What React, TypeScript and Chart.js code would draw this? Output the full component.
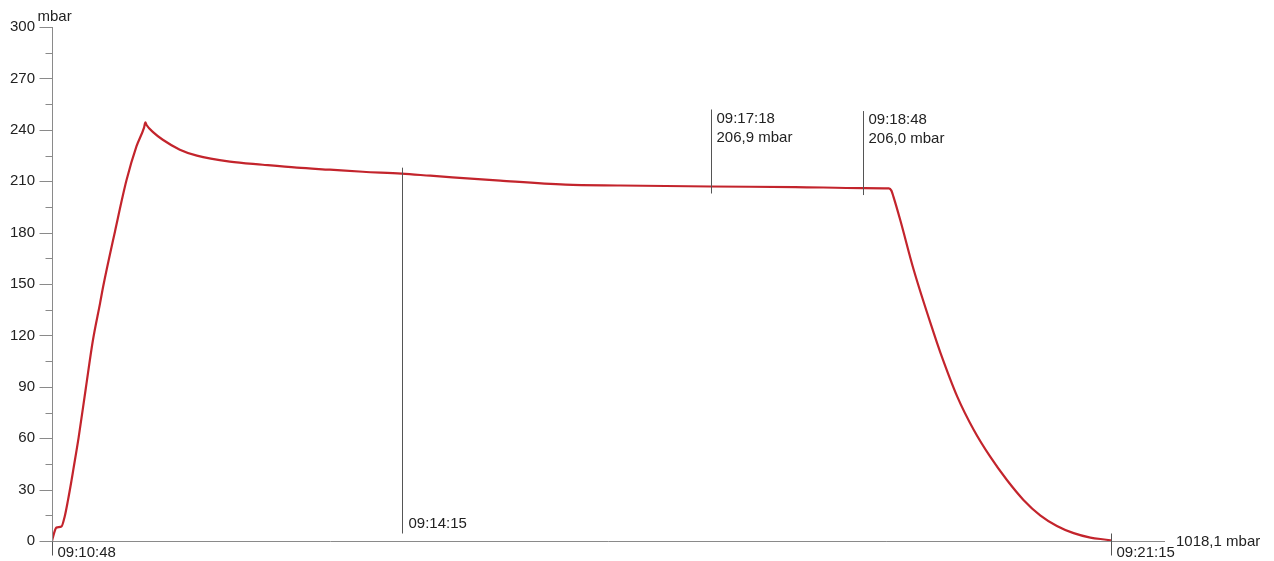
import React, { useEffect, useRef } from "react";
import { Chart, registerables } from "chart.js";

Chart.register(...registerables);

// seconds elapsed since 09:10:48
const timeSec = [
  0, 1.2, 2.6, 5.6, 7.5, 9.5, 11.5, 12.6, 15.8, 20, 24.2, 28.5, 30.3, 37.3, 44.1, 50, 54.5, 55.3,
  56, 60, 65.6, 75.7, 85.8, 105.3, 124.8, 145, 164.6, 184.1, 207, 224, 265.4, 304, 336.5, 390,
  440, 480, 495.5, 497, 498.2, 502.2, 510.2, 522.1, 526, 536, 545.8, 555.5, 565.4, 575.2,
  585.1, 595, 604.9, 614.8, 626.6, 627,
];
const pressure = [
  0, 4.5, 7.8, 8.4, 14.2, 24, 35, 41.5, 60.6, 89, 117, 139, 148.5, 180.7, 210.5, 230.3, 241.3, 244.3,
  242.8, 238.5, 234.2, 228.4, 224.9, 221.4, 219.6, 217.9, 216.7, 215.5, 214.4, 213.2, 210.3, 208, 207.5, 206.9,
  206.6, 206.0, 205.8, 204.5, 201, 187.5, 158.3, 121.3, 110, 84.3, 64.8, 49.2, 35.6, 24,
  15, 8.8, 4.6, 2.0, 0.4, 0.3,
];

const yTicks = [0, 30, 60, 90, 120, 150, 180, 210, 240, 270, 300];
const yUnit = "mbar";
const endLabel = "1018,1 mbar";

const markerTimes = [0, 207, 390, 480, 627];
const markerLabels = ["09:10:48", "09:14:15", "09:17:18", "09:18:48", "09:21:15"];
const markerValueLabels = ["", "", "206,9 mbar", "206,0 mbar", ""];
const markerKinds = ["start", "low", "high", "high", "end"];

const FONT = '"Liberation Sans", Arial, Helvetica, sans-serif';

function valueAt(t: number): number {
  for (let i = 0; i < timeSec.length - 1; i++) {
    if (t >= timeSec[i] && t <= timeSec[i + 1]) {
      const f = (t - timeSec[i]) / (timeSec[i + 1] - timeSec[i] || 1);
      return pressure[i] + f * (pressure[i + 1] - pressure[i]);
    }
  }
  return pressure[pressure.length - 1];
}

const decorPlugin = {
  id: "decor",
  afterDraw(chart: any) {
    const { ctx, chartArea, scales } = chart;
    const xs = scales.x;
    const ys = scales.y;
    ctx.save();
    // axes
    ctx.strokeStyle = "#8a8a8a";
    ctx.lineWidth = 1;
    const ax = Math.round(chartArea.left) + 0.5;
    const ay = Math.round(chartArea.bottom) + 0.5;
    ctx.beginPath();
    ctx.moveTo(ax, Math.round(chartArea.top));
    ctx.lineTo(ax, ay);
    ctx.moveTo(ax, ay);
    ctx.lineTo(chartArea.right, ay);
    ctx.stroke();
    // y ticks major / minor
    for (let v = 0; v <= 300; v += 15) {
      const y = Math.round(ys.getPixelForValue(v)) + 0.5;
      const major = v % 30 === 0;
      ctx.beginPath();
      ctx.moveTo(ax - (major ? 13 : 7), y);
      ctx.lineTo(ax, y);
      ctx.stroke();
    }
    ctx.fillStyle = "#222";
    ctx.font = "15px " + FONT;
    ctx.textBaseline = "middle";
    ctx.textAlign = "left";
    ctx.fillText(yUnit, ax - 15, Math.round(chartArea.top) - 10);
    ctx.fillText(endLabel, chartArea.right + 11, ay);

    // markers
    ctx.strokeStyle = "#555";
    for (let i = 0; i < markerTimes.length; i++) {
      const x = Math.round(xs.getPixelForValue(markerTimes[i])) + 0.5;
      const kind = markerKinds[i];
      ctx.fillStyle = "#222";
      if (kind === "start" || kind === "end") {
        const y1 = kind === "end" ? ay - 8 : ay;
        const y2 = ay + 14;
        ctx.beginPath();
        ctx.moveTo(x, y1);
        ctx.lineTo(x, y2);
        ctx.stroke();
        ctx.fillText(markerLabels[i], x + 5, ay + 11);
      } else if (kind === "low") {
        const cy = ys.getPixelForValue(valueAt(markerTimes[i]));
        ctx.beginPath();
        ctx.moveTo(x, cy - 6);
        ctx.lineTo(x, ay - 8);
        ctx.stroke();
        ctx.fillText(markerLabels[i], x + 6, ay - 18);
      } else {
        const cy = ys.getPixelForValue(valueAt(markerTimes[i]));
        ctx.beginPath();
        ctx.moveTo(x, cy + 7);
        ctx.lineTo(x, cy - 77);
        ctx.stroke();
        ctx.fillText(markerLabels[i], x + 5, cy - 68);
        ctx.fillText(markerValueLabels[i], x + 5, cy - 49);
      }
    }
    ctx.restore();
  },
};

export default function App() {
  const ref = useRef<HTMLCanvasElement | null>(null);
  useEffect(() => {
    if (!ref.current) return;
    const chart = new Chart(ref.current, {
      type: "line",
      data: {
        datasets: [
          {
            data: timeSec.map((t, i) => ({ x: t, y: pressure[i] })),
            borderColor: "#c3242c",
            borderWidth: 2.2,
            pointRadius: 0,
            fill: false,
            cubicInterpolationMode: "monotone",
          },
        ],
      },
      options: {
        responsive: false,
        animation: false,
        layout: { padding: { top: 27, right: 109, bottom: 20, left: 0 } },
        plugins: { legend: { display: false }, tooltip: { enabled: false }, title: { display: false } },
        scales: {
          x: { type: "linear", min: 0, max: 659, display: false },
          y: {
            min: 0,
            max: 300,
            afterBuildTicks: (s: any) => {
              s.ticks = yTicks.map((v) => ({ value: v }));
            },
            afterFit: (s: any) => {
              s.width = 52;
            },
            grid: { display: false, drawTicks: true, tickLength: 17 },
            border: { display: false },
            ticks: {
              padding: 0,
              color: "#222",
              font: { family: FONT, size: 15 },
            },
          },
        },
      },
      plugins: [decorPlugin],
    } as any);
    return () => chart.destroy();
  }, []);
  return (
    <div style={{ position: "fixed", left: 0, top: 0, width: 1274, height: 561, background: "#fff" }}>
      <canvas ref={ref} width={1274} height={561} style={{ display: "block" }} />
    </div>
  );
}
